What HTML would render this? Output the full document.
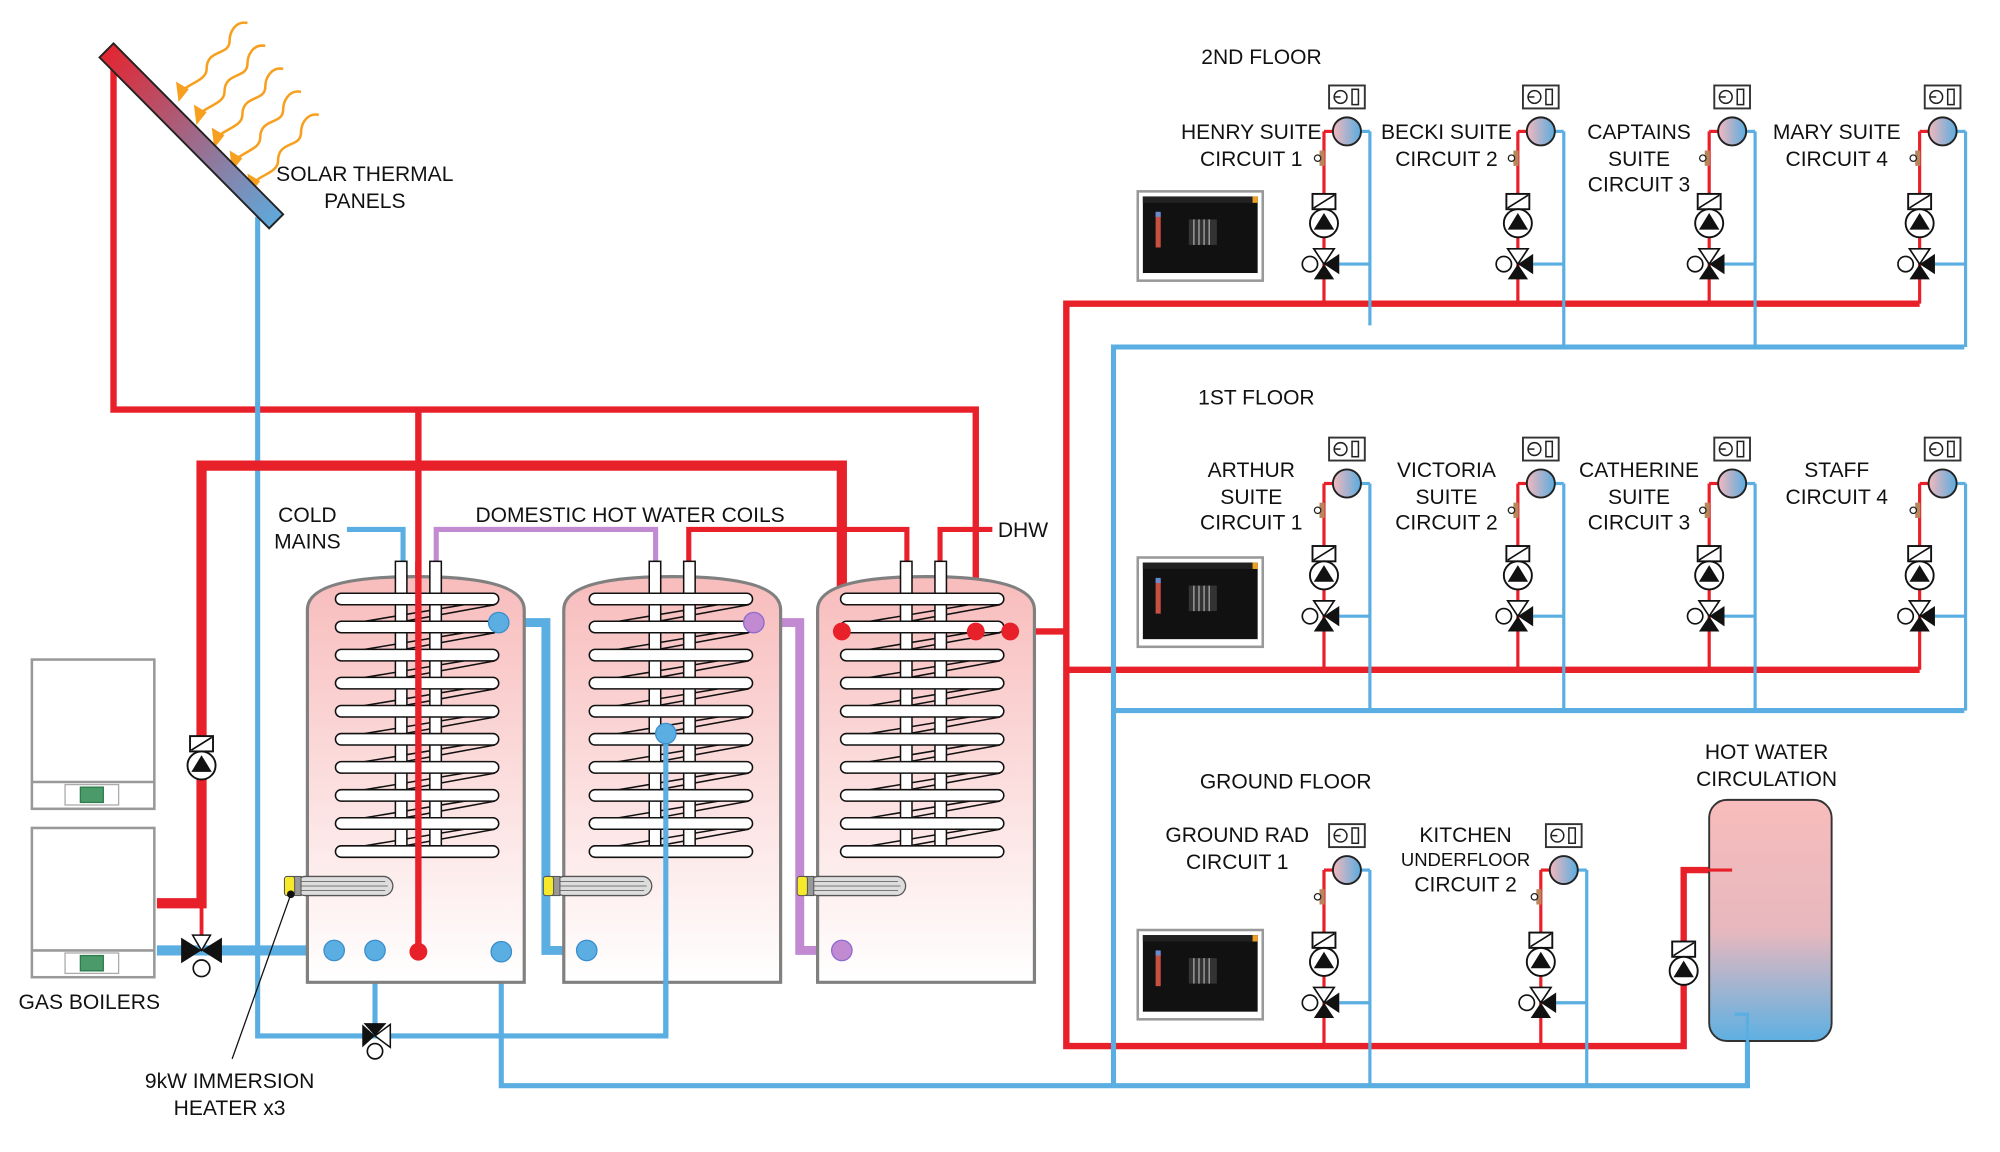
<!DOCTYPE html>
<html><head><meta charset="utf-8"><style>
html,body{margin:0;padding:0;background:#fff}
svg{display:block}
text{font-family:"Liberation Sans",sans-serif;font-size:16.5px;fill:#111;text-anchor:middle}
</style></head><body>
<svg width="2000" height="1152" viewBox="0 0 1568 903" preserveAspectRatio="none" xmlns="http://www.w3.org/2000/svg">
<defs>
<linearGradient id="tank" x1="0" y1="0" x2="0" y2="1"><stop offset="0" stop-color="#f8bcbc"/><stop offset="1" stop-color="#fff"/></linearGradient>
<linearGradient id="hw" x1="0" y1="0" x2="0" y2="1"><stop offset="0" stop-color="#f8bcbc"/><stop offset="0.55" stop-color="#e6b8be"/><stop offset="1" stop-color="#5eb0e2"/></linearGradient>
<linearGradient id="cir" x1="0" y1="0" x2="1" y2="0"><stop offset="0" stop-color="#f4b8bc"/><stop offset="1" stop-color="#58ace0"/></linearGradient>
<linearGradient id="pan" x1="0" y1="0" x2="1" y2="1"><stop offset="0" stop-color="#e8202a"/><stop offset="1" stop-color="#5aaee2"/></linearGradient>
<g id="coils">
<g stroke="#111" stroke-width="1.2" fill="none">
<path d="M268,496 L388,474 M268,518 L388,496 M268,540 L388,518 M268,562 L388,540 M268,584 L388,562 M268,606 L388,584 M268,628 L388,606 M268,650 L388,628 M268,672 L388,650"/>
<path d="M268,490 L388,470 M268,512 L388,492 M268,534 L388,514 M268,556 L388,536 M268,578 L388,558 M268,600 L388,580 M268,622 L388,602 M268,644 L388,624 M268,666 L388,646" />
</g>
<g fill="#fff" stroke="#111" stroke-width="1.2">
<rect x="310" y="440" width="9" height="230"/><rect x="337" y="440" width="9" height="230"/>
</g>
<g fill="#fff" stroke="#111" stroke-width="1.2">
<rect x="263" y="465" width="128" height="9" rx="4.5"/><rect x="263" y="487" width="128" height="9" rx="4.5"/><rect x="263" y="509" width="128" height="9" rx="4.5"/><rect x="263" y="531" width="128" height="9" rx="4.5"/><rect x="263" y="553" width="128" height="9" rx="4.5"/><rect x="263" y="575" width="128" height="9" rx="4.5"/><rect x="263" y="597" width="128" height="9" rx="4.5"/><rect x="263" y="619" width="128" height="9" rx="4.5"/><rect x="263" y="641" width="128" height="9" rx="4.5"/><rect x="263" y="663" width="128" height="9" rx="4.5"/>
</g>
</g>
<g id="heater">
<rect x="232" y="687" width="76" height="15" rx="7.5" fill="#ddd" stroke="#555" stroke-width="1"/>
<path d="M236,691 H302 M236,694.5 H304 M236,698 H302" stroke="#777" stroke-width="0.8"/>
<rect x="230" y="687" width="6" height="15" fill="#999" stroke="#555" stroke-width="0.8"/>
<rect x="223" y="687" width="8" height="15" rx="2" fill="#f5e92a" stroke="#555" stroke-width="0.8"/>
</g>
<g id="pv">
<rect x="-9" y="-13" width="18" height="12" fill="#fff" stroke="#111" stroke-width="1.5"/>
<path d="M-8,-2 L8,-12" stroke="#111" stroke-width="1.3"/>
<circle cx="0" cy="10" r="11" fill="#fff" stroke="#111" stroke-width="1.5"/>
<path d="M-8,15 L8,15 L0,2 Z" fill="#111"/>
</g>
<g id="valve">
<path d="M-8,-12 L8,-12 L0,0 Z" fill="#fff" stroke="#111" stroke-width="1.3"/>
<path d="M-8,12 L8,12 L0,0 Z" fill="#111"/>
<path d="M12,-8 L12,8 L0,0 Z" fill="#111"/>
<circle cx="-11" cy="0" r="6" fill="#fff" stroke="#111" stroke-width="1.3"/>
</g>
<g id="circ">
<path d="M0,0 H8" stroke="#e8202a" stroke-width="2.5"/>
<path d="M28,0 H36" stroke="#5aaee2" stroke-width="2.5"/>
<path d="M12,104 H36" stroke="#5aaee2" stroke-width="2.5"/>
<rect x="4" y="-36" width="28" height="18" fill="#fff" stroke="#333" stroke-width="1.5"/>
<circle cx="13" cy="-27" r="5" fill="none" stroke="#222" stroke-width="1.2"/><path d="M8,-27 H13" stroke="#222" stroke-width="1.2"/>
<rect x="22" y="-33" width="5" height="12" fill="none" stroke="#222" stroke-width="1.2"/>
<circle cx="18" cy="0" r="11" fill="url(#cir)" stroke="#222" stroke-width="1.5"/>
<rect x="-3.5" y="15" width="4" height="12" fill="#b8865a"/>
<circle cx="-5" cy="21" r="2.5" fill="#fff" stroke="#222" stroke-width="1"/>
<use href="#pv" x="0" y="62"/>
<use href="#valve" x="0" y="104"/>
</g>
<g id="screen">
<rect x="0" y="0" width="98" height="70" fill="#fff" stroke="#999" stroke-width="2"/>
<rect x="4" y="4" width="90" height="60" fill="#111"/>
<rect x="4" y="4" width="90" height="5" fill="#222"/>
<rect x="90" y="4" width="4" height="5" fill="#f0a020"/>
<rect x="14" y="18" width="4" height="26" fill="#c85040"/><rect x="14" y="16" width="4" height="4" fill="#6a8ad0"/>
<rect x="40" y="22" width="22" height="20" fill="#333"/><path d="M44,22 V42 M48,22 V42 M52,22 V42 M56,22 V42" stroke="#aaa" stroke-width="1"/>
</g>
</defs>

<g stroke="#f7a020" stroke-width="2" fill="none">
<path d="M194,18 c-10,-2 -14,8 -14,14 c0,12 -18,6 -18,22 c0,8 -10,10 -18,16"/>
<path d="M208,36 c-10,-2 -14,8 -14,14 c0,12 -18,6 -18,22 c0,8 -10,10 -18,16"/>
<path d="M222,54 c-10,-2 -14,8 -14,14 c0,12 -18,6 -18,22 c0,8 -10,10 -18,16"/>
<path d="M236,72 c-10,-2 -14,8 -14,14 c0,12 -18,6 -18,22 c0,8 -10,10 -18,16"/>
<path d="M250,90 c-10,-2 -14,8 -14,14 c0,12 -18,6 -18,22 c0,8 -10,10 -18,16"/>
</g>
<g fill="#f7a020">
<path d="M138,64 L148,70 L140,80 Z"/><path d="M152,82 L162,88 L154,98 Z"/><path d="M166,100 L176,106 L168,116 Z"/><path d="M180,118 L190,124 L182,134 Z"/><path d="M194,136 L204,142 L196,152 Z"/>
</g>

<g fill="none" stroke-linejoin="miter">
<path d="M89,46 V321 H765 V495" stroke="#e8202a" stroke-width="5"/>
<path d="M328,321 V746" stroke="#e8202a" stroke-width="5"/>
<path d="M202,170 V812 H522 V575" stroke="#5aaee2" stroke-width="4"/>
<path d="M123,708 H158 V365 H660 V495" stroke="#e8202a" stroke-width="8"/>
<path d="M158,708 V735" stroke="#e8202a" stroke-width="3"/>
<path d="M123,745 H262" stroke="#5aaee2" stroke-width="8"/>
<path d="M294,745 V812" stroke="#5aaee2" stroke-width="4"/>
<path d="M393,746 V851 H1370 V795 H1360" stroke="#5aaee2" stroke-width="4"/>
<path d="M391,488 H428 V745 H460" stroke="#5aaee2" stroke-width="7"/>
<path d="M591,488 H627 V745 H660" stroke="#c28ad0" stroke-width="7"/>
<path d="M272,415 H316 V440" stroke="#5aaee2" stroke-width="4"/>
<path d="M342,440 V415 H514 V440" stroke="#c28ad0" stroke-width="4"/>
<path d="M540,440 V415 H711 V440" stroke="#e8202a" stroke-width="4"/>
<path d="M737,440 V415 H778" stroke="#e8202a" stroke-width="4"/>
<path d="M792,495 H836" stroke="#e8202a" stroke-width="5"/>
<path d="M1505,238 H836 V820 H1320 V682 H1358" stroke="#e8202a" stroke-width="5"/>
<path d="M836,525 H1505" stroke="#e8202a" stroke-width="5"/>
<path d="M1540,272 H873 V851" stroke="#5aaee2" stroke-width="4"/>
<path d="M873,557 H1540" stroke="#5aaee2" stroke-width="4"/>
<g stroke="#e8202a" stroke-width="2.5">
<path d="M1038,103 V238 M1190,103 V238 M1340,103 V238 M1505,103 V238"/>
<path d="M1038,379 V525 M1190,379 V525 M1340,379 V525 M1505,379 V525"/>
<path d="M1038,682 V820 M1208,682 V820"/>
</g>
<g stroke="#5aaee2" stroke-width="2.5">
<path d="M1074,103 V255 M1226,103 V272 M1376,103 V272 M1541,103 V272"/>
<path d="M1074,379 V557 M1226,379 V557 M1376,379 V557 M1541,379 V557"/>
<path d="M1074,682 V851 M1244,682 V851"/>
</g>
</g>

<path d="M78,45 L89,34 L222,168 L211,179 Z" fill="url(#pan)" stroke="#222" stroke-width="1.5"/>

<g fill="url(#tank)" stroke="#808080" stroke-width="2.5">
<path d="M241,770 V478 Q241,452 326,452 Q411,452 411,478 V770 Z"/>
<path d="M442,770 V478 Q442,452 527,452 Q612,452 612,478 V770 Z"/>
<path d="M641,770 V478 Q641,452 726,452 Q811,452 811,478 V770 Z"/>
</g>
<use href="#coils"/>
<use href="#coils" x="199"/>
<use href="#coils" x="396"/>
<path d="M328,440 V746" stroke="#e8202a" stroke-width="5"/>
<path d="M522,575 V812" stroke="#5aaee2" stroke-width="4"/>
<use href="#heater"/><use href="#heater" x="203"/><use href="#heater" x="402"/>
<g fill="#5aaee2" stroke="#3a8ecc" stroke-width="1"><circle cx="391" cy="488" r="8"/><circle cx="522" cy="575" r="8"/><circle cx="262" cy="745" r="8"/><circle cx="294" cy="745" r="8"/><circle cx="393" cy="746" r="8"/><circle cx="460" cy="745" r="8"/></g>
<circle cx="591" cy="488" r="8" fill="#c28ad0" stroke="#8a6ad0"/>
<circle cx="660" cy="745" r="8" fill="#c28ad0" stroke="#8a6ad0"/>
<g fill="#e8202a"><circle cx="328" cy="746" r="7"/><circle cx="660" cy="495" r="7"/><circle cx="765" cy="495" r="7"/><circle cx="792" cy="495" r="7"/></g>

<g fill="#fff" stroke="#999" stroke-width="2">
<rect x="25" y="517" width="96" height="117"/><path d="M25,613 H121"/><rect x="51" y="615" width="42" height="16" stroke="#aaa" stroke-width="1"/>
<rect x="25" y="649" width="96" height="117"/><path d="M25,745 H121"/><rect x="51" y="747" width="42" height="16" stroke="#aaa" stroke-width="1"/>
</g>
<rect x="63" y="617" width="18" height="12" fill="#4a9a6a" stroke="#2a7a4a"/>
<rect x="63" y="749" width="18" height="12" fill="#4a9a6a" stroke="#2a7a4a"/>
<use href="#pv" x="158" y="590"/>
<path d="M142,735 L142,755 L158,745 Z M174,735 L174,755 L158,745 Z" fill="#111"/>
<path d="M151,733 L165,733 L158,745 Z" fill="#fff" stroke="#111" stroke-width="1.2"/>
<circle cx="158" cy="759" r="6.5" fill="#fff" stroke="#111" stroke-width="1.3"/>
<path d="M285,802 L303,802 L294,812 Z" fill="#111"/>
<path d="M306,803 L306,821 L294,812 Z" fill="#fff" stroke="#111" stroke-width="1.2"/>
<path d="M284,803 L284,821 L294,812 Z" fill="#111"/>
<circle cx="294" cy="824" r="6" fill="#fff" stroke="#111" stroke-width="1.3"/>
<path d="M228,701 L182,830" stroke="#111" stroke-width="1"/>
<circle cx="228" cy="701" r="3" fill="#111"/>

<use href="#circ" x="1038" y="103"/><use href="#circ" x="1190" y="103"/><use href="#circ" x="1340" y="103"/><use href="#circ" x="1505" y="103"/>
<use href="#circ" x="1038" y="379"/><use href="#circ" x="1190" y="379"/><use href="#circ" x="1340" y="379"/><use href="#circ" x="1505" y="379"/>
<use href="#circ" x="1038" y="682"/><use href="#circ" x="1208" y="682"/>
<use href="#pv" x="1320" y="751"/>
<rect x="1340" y="627" width="96" height="189" rx="14" fill="url(#hw)" stroke="#333" stroke-width="1.5"/>
<path d="M1320,682 H1358" stroke="#e8202a" stroke-width="2.5"/>
<path d="M1360,795 H1370 V851" stroke="#5aaee2" stroke-width="2.5" fill="none"/>

<use href="#screen" x="892" y="150"/><use href="#screen" x="892" y="437"/><use href="#screen" x="892" y="729"/>

<text x="286" y="142">SOLAR THERMAL</text><text x="286" y="163">PANELS</text>
<text x="241" y="409">COLD</text><text x="241" y="430">MAINS</text>
<text x="494" y="409">DOMESTIC HOT WATER COILS</text>
<text x="802" y="421">DHW</text>
<text x="70" y="791">GAS BOILERS</text>
<text x="180" y="853">9kW IMMERSION</text><text x="180" y="874">HEATER x3</text>
<text x="989" y="50">2ND FLOOR</text>
<text x="981" y="109">HENRY SUITE</text><text x="981" y="130">CIRCUIT 1</text>
<text x="1134" y="109">BECKI SUITE</text><text x="1134" y="130">CIRCUIT 2</text>
<text x="1285" y="109">CAPTAINS</text><text x="1285" y="130">SUITE</text><text x="1285" y="150">CIRCUIT 3</text>
<text x="1440" y="109">MARY SUITE</text><text x="1440" y="130">CIRCUIT 4</text>
<text x="985" y="317">1ST FLOOR</text>
<text x="981" y="374">ARTHUR</text><text x="981" y="395">SUITE</text><text x="981" y="415">CIRCUIT 1</text>
<text x="1134" y="374">VICTORIA</text><text x="1134" y="395">SUITE</text><text x="1134" y="415">CIRCUIT 2</text>
<text x="1285" y="374">CATHERINE</text><text x="1285" y="395">SUITE</text><text x="1285" y="415">CIRCUIT 3</text>
<text x="1440" y="374">STAFF</text><text x="1440" y="395">CIRCUIT 4</text>
<text x="1008" y="618">GROUND FLOOR</text>
<text x="970" y="660">GROUND RAD</text><text x="970" y="681">CIRCUIT 1</text>
<text x="1149" y="660">KITCHEN</text><text x="1149" y="679" style="font-size:14.5px">UNDERFLOOR</text><text x="1149" y="699">CIRCUIT 2</text>
<text x="1385" y="595">HOT WATER</text><text x="1385" y="616">CIRCULATION</text>
</svg>
</body></html>
